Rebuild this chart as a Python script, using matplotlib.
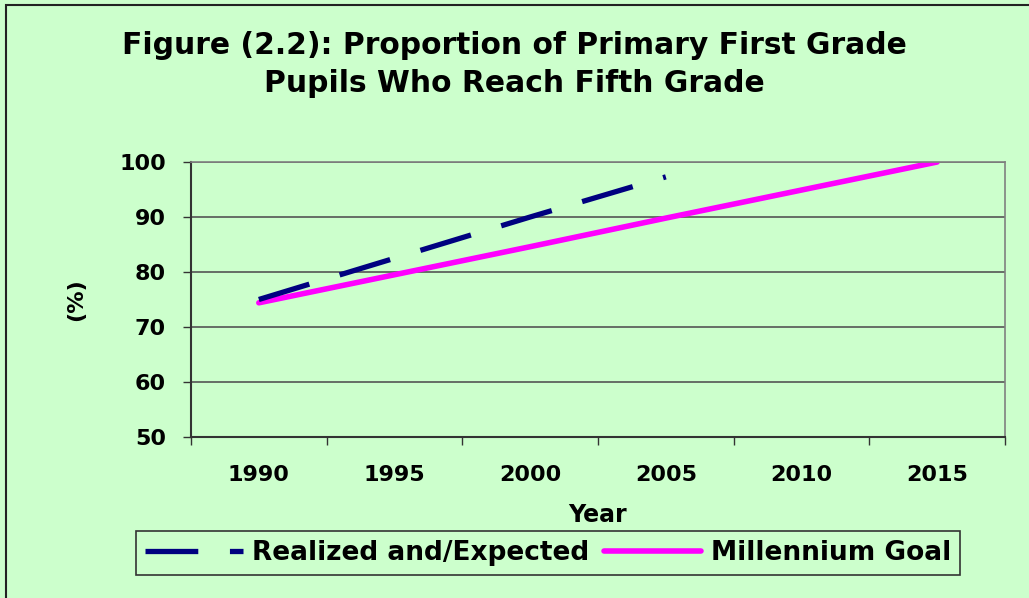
import numpy as np
import matplotlib
matplotlib.use("Agg")
import matplotlib.pyplot as plt
from matplotlib.patches import Rectangle

# values
years = ["1990", "1995", "2000", "2005", "2010", "2015"]
realized = [75.0, 82.5, 90.0, 97.3]          # realized / expected, 1990-2005
goal = [74.4, 79.5, 84.6, 89.8, 94.9, 100.0]  # millennium goal path
yticks = [50, 60, 70, 80, 90, 100]

bg = "#CCFFCC"
fig = plt.figure(figsize=(10.29, 5.98), dpi=100, facecolor=bg)
ax = fig.add_axes([191/1029, 1-437/598, (1005-191)/1029, (437-162)/598])
ax.set_facecolor(bg)

# outer chart border (only left and top visible in the crop)
fig.patches.append(Rectangle((6/1029, -0.1), 1.2, 1.1 - 5/598, transform=fig.transFigure,
                             fill=False, edgecolor="#222222", lw=1.5, clip_on=False))

x = np.arange(len(years))
ax.plot(x[:len(realized)], realized, color="#000080", lw=3.8,
        linestyle=(0, (10, 6)), dash_capstyle="butt", label="Realized and/Expected", zorder=3)
ax.plot(x, goal, color="#FF00FF", lw=4, solid_capstyle="round",
        label="Millennium Goal", zorder=2)

ax.set_xlim(-0.5, len(years) - 0.5)
ax.set_ylim(50, 100)
ax.set_yticks(yticks)
ax.set_yticklabels([str(v) for v in yticks])
ax.set_xticks(x)
ax.set_xticklabels(years)
ax.set_xticks(np.arange(-0.5, len(years)), minor=True)
ax.tick_params(axis="x", which="major", length=0, pad=20, labelsize=16)
ax.tick_params(axis="x", which="minor", length=6, width=1, color="#333333", direction="out")
ax.tick_params(axis="y", length=6, width=1, color="#333333", pad=12, labelsize=16)
for lab in ax.get_xticklabels() + ax.get_yticklabels():
    lab.set_fontweight("bold")

ax.grid(axis="y", color="#555555", lw=1.2)
ax.set_axisbelow(True)
for s in ["left", "bottom"]:
    ax.spines[s].set_color("#333333")
    ax.spines[s].set_linewidth(1.5)
for s in ["top", "right"]:
    ax.spines[s].set_color("#808080")
    ax.spines[s].set_linewidth(1.2)

ax.set_xlabel("Year", fontsize=17, fontweight="bold", labelpad=13)
ax.set_ylabel("(%)", fontsize=16, fontweight="bold", labelpad=24)

fig.text(0.5, 1 - 45/598, "Figure (2.2): Proportion of Primary First Grade",
         ha="center", va="center", fontsize=21.4, fontweight="bold")
fig.text(0.5, 1 - 83/598, "Pupils Who Reach Fifth Grade",
         ha="center", va="center", fontsize=21.4, fontweight="bold")

leg = fig.legend(loc="center", bbox_to_anchor=(548/1029, 1 - 553/598), ncol=2,
                 prop={"weight": "bold", "size": 19}, frameon=True, fancybox=False,
                 handlelength=3.7, handletextpad=0.35, columnspacing=0.55,
                 borderpad=0.35, edgecolor="#333333", facecolor=bg, framealpha=1)
leg.get_frame().set_linewidth(1.2)

fig.savefig("out.png", dpi=100, facecolor=bg)
